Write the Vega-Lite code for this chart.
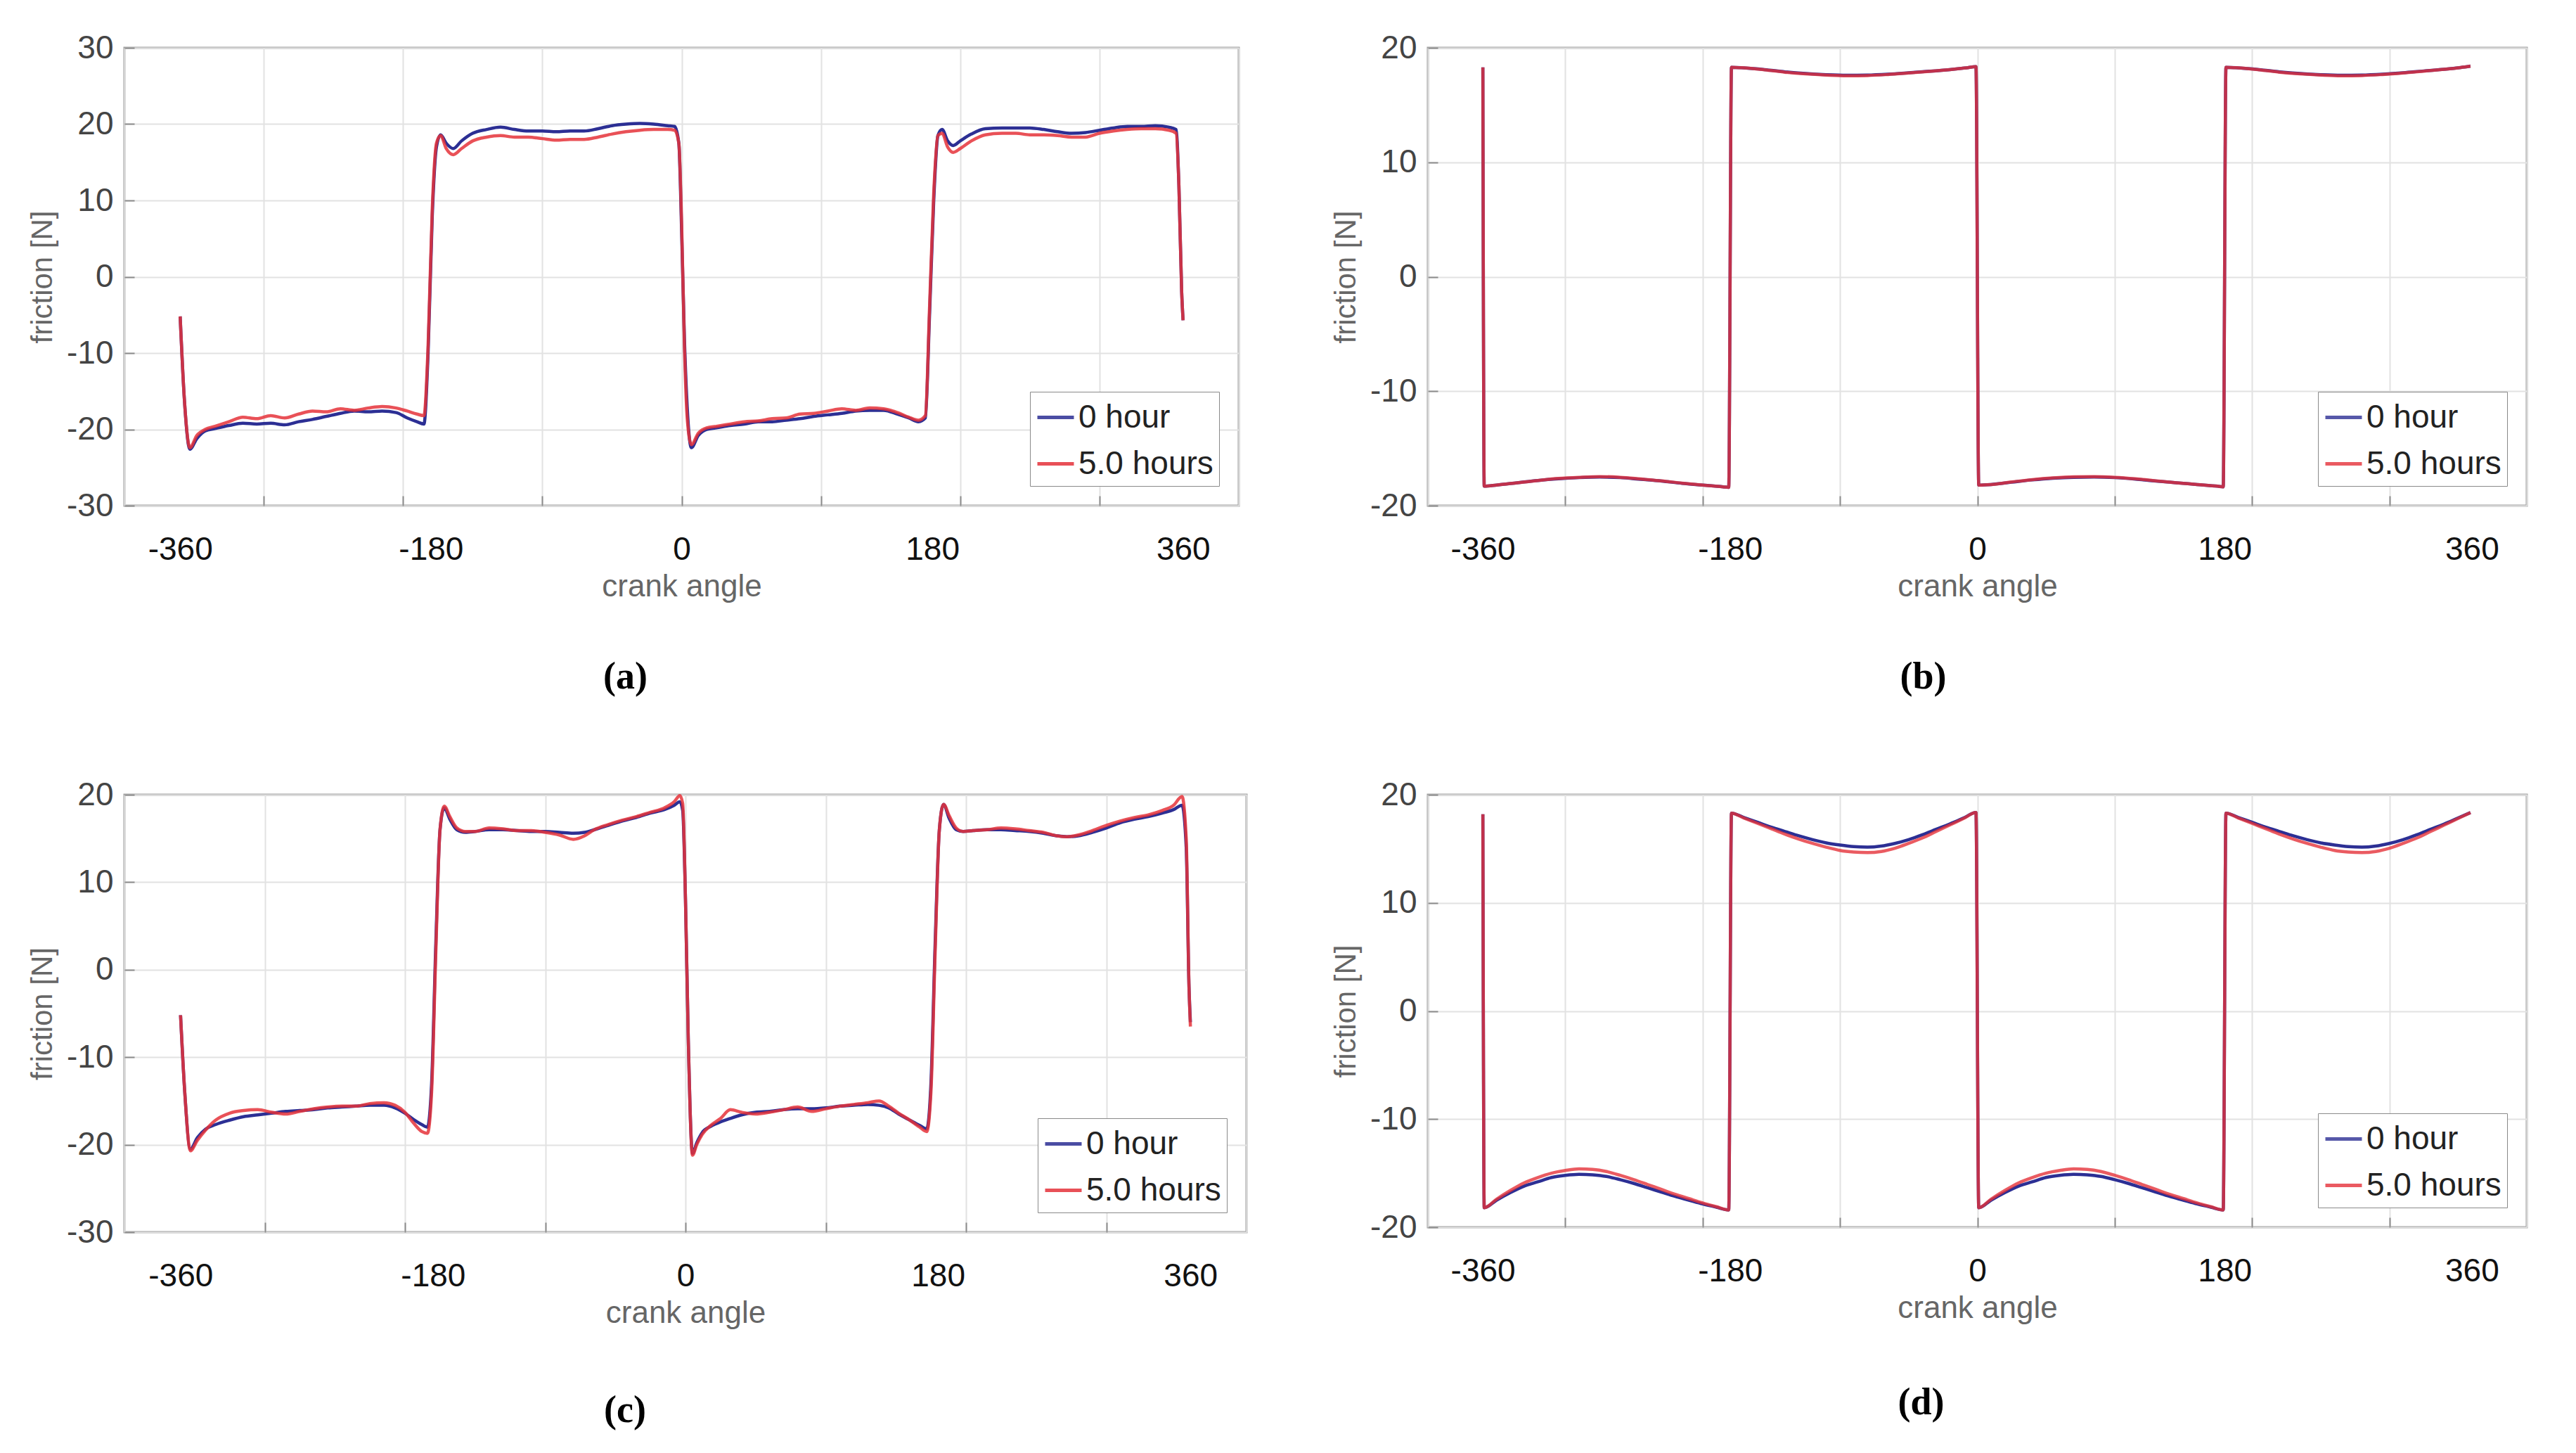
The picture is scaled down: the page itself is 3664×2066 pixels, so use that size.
{
"$schema":"https://vega.github.io/schema/vega-lite/v6.json",
"background":"white",
"padding":{"left":38,"top":43,"right":0,"bottom":0},
"data":{"values":[
{"p":"a","s":"0 hour","x":-360,"y":-5.2},{"p":"a","s":"0 hour","x":-357,"y":-16},{"p":"a","s":"0 hour","x":-353,"y":-22.6},{"p":"a","s":"0 hour","x":-348,"y":-21.2},{"p":"a","s":"0 hour","x":-342,"y":-20.2},{"p":"a","s":"0 hour","x":-335,"y":-19.9},{"p":"a","s":"0 hour","x":-325,"y":-19.5},{"p":"a","s":"0 hour","x":-315,"y":-19.2},{"p":"a","s":"0 hour","x":-305,"y":-19.3},{"p":"a","s":"0 hour","x":-295,"y":-19.2},{"p":"a","s":"0 hour","x":-285,"y":-19.4},{"p":"a","s":"0 hour","x":-275,"y":-19.0},{"p":"a","s":"0 hour","x":-265,"y":-18.7},{"p":"a","s":"0 hour","x":-255,"y":-18.3},{"p":"a","s":"0 hour","x":-245,"y":-17.9},{"p":"a","s":"0 hour","x":-235,"y":-17.6},{"p":"a","s":"0 hour","x":-225,"y":-17.7},{"p":"a","s":"0 hour","x":-215,"y":-17.6},{"p":"a","s":"0 hour","x":-205,"y":-17.8},{"p":"a","s":"0 hour","x":-197,"y":-18.5},{"p":"a","s":"0 hour","x":-190,"y":-19.0},{"p":"a","s":"0 hour","x":-185,"y":-19.3},{"p":"a","s":"0 hour","x":-182,"y":-10},{"p":"a","s":"0 hour","x":-179,"y":8},{"p":"a","s":"0 hour","x":-176,"y":17},{"p":"a","s":"0 hour","x":-173,"y":18.6},{"p":"a","s":"0 hour","x":-169,"y":17.5},{"p":"a","s":"0 hour","x":-164,"y":16.8},{"p":"a","s":"0 hour","x":-158,"y":17.8},{"p":"a","s":"0 hour","x":-150,"y":18.8},{"p":"a","s":"0 hour","x":-140,"y":19.3},{"p":"a","s":"0 hour","x":-130,"y":19.6},{"p":"a","s":"0 hour","x":-120,"y":19.3},{"p":"a","s":"0 hour","x":-110,"y":19.1},{"p":"a","s":"0 hour","x":-100,"y":19.1},{"p":"a","s":"0 hour","x":-90,"y":19.0},{"p":"a","s":"0 hour","x":-80,"y":19.1},{"p":"a","s":"0 hour","x":-70,"y":19.1},{"p":"a","s":"0 hour","x":-60,"y":19.4},{"p":"a","s":"0 hour","x":-50,"y":19.8},{"p":"a","s":"0 hour","x":-40,"y":20.0},{"p":"a","s":"0 hour","x":-30,"y":20.1},{"p":"a","s":"0 hour","x":-20,"y":20.0},{"p":"a","s":"0 hour","x":-10,"y":19.8},{"p":"a","s":"0 hour","x":-5,"y":19.7},{"p":"a","s":"0 hour","x":-2,"y":17.5},{"p":"a","s":"0 hour","x":0,"y":6},{"p":"a","s":"0 hour","x":2,"y":-8},{"p":"a","s":"0 hour","x":4,"y":-17},{"p":"a","s":"0 hour","x":7,"y":-22.4},{"p":"a","s":"0 hour","x":12,"y":-20.8},{"p":"a","s":"0 hour","x":18,"y":-20.0},{"p":"a","s":"0 hour","x":25,"y":-19.8},{"p":"a","s":"0 hour","x":35,"y":-19.5},{"p":"a","s":"0 hour","x":45,"y":-19.3},{"p":"a","s":"0 hour","x":55,"y":-19.0},{"p":"a","s":"0 hour","x":65,"y":-19.0},{"p":"a","s":"0 hour","x":75,"y":-18.8},{"p":"a","s":"0 hour","x":85,"y":-18.6},{"p":"a","s":"0 hour","x":95,"y":-18.3},{"p":"a","s":"0 hour","x":105,"y":-18.1},{"p":"a","s":"0 hour","x":115,"y":-17.9},{"p":"a","s":"0 hour","x":125,"y":-17.6},{"p":"a","s":"0 hour","x":135,"y":-17.5},{"p":"a","s":"0 hour","x":145,"y":-17.5},{"p":"a","s":"0 hour","x":155,"y":-18.0},{"p":"a","s":"0 hour","x":163,"y":-18.5},{"p":"a","s":"0 hour","x":170,"y":-19.0},{"p":"a","s":"0 hour","x":175,"y":-18.5},{"p":"a","s":"0 hour","x":178,"y":-5},{"p":"a","s":"0 hour","x":181,"y":10},{"p":"a","s":"0 hour","x":184,"y":18.5},{"p":"a","s":"0 hour","x":187,"y":19.3},{"p":"a","s":"0 hour","x":191,"y":17.8},{"p":"a","s":"0 hour","x":195,"y":17.2},{"p":"a","s":"0 hour","x":200,"y":17.8},{"p":"a","s":"0 hour","x":208,"y":18.7},{"p":"a","s":"0 hour","x":218,"y":19.4},{"p":"a","s":"0 hour","x":230,"y":19.5},{"p":"a","s":"0 hour","x":240,"y":19.5},{"p":"a","s":"0 hour","x":250,"y":19.5},{"p":"a","s":"0 hour","x":260,"y":19.3},{"p":"a","s":"0 hour","x":270,"y":19.0},{"p":"a","s":"0 hour","x":280,"y":18.8},{"p":"a","s":"0 hour","x":290,"y":18.9},{"p":"a","s":"0 hour","x":300,"y":19.2},{"p":"a","s":"0 hour","x":310,"y":19.5},{"p":"a","s":"0 hour","x":320,"y":19.7},{"p":"a","s":"0 hour","x":330,"y":19.7},{"p":"a","s":"0 hour","x":340,"y":19.8},{"p":"a","s":"0 hour","x":350,"y":19.6},{"p":"a","s":"0 hour","x":355,"y":19.3},{"p":"a","s":"0 hour","x":357,"y":12},{"p":"a","s":"0 hour","x":359,"y":-2},{"p":"a","s":"0 hour","x":360,"y":-5.7},
{"p":"a","s":"5.0 hours","x":-360,"y":-5.2},{"p":"a","s":"5.0 hours","x":-357,"y":-16},{"p":"a","s":"5.0 hours","x":-353,"y":-22.4},{"p":"a","s":"5.0 hours","x":-348,"y":-20.8},{"p":"a","s":"5.0 hours","x":-342,"y":-20.0},{"p":"a","s":"5.0 hours","x":-335,"y":-19.6},{"p":"a","s":"5.0 hours","x":-325,"y":-19.0},{"p":"a","s":"5.0 hours","x":-315,"y":-18.4},{"p":"a","s":"5.0 hours","x":-305,"y":-18.6},{"p":"a","s":"5.0 hours","x":-295,"y":-18.2},{"p":"a","s":"5.0 hours","x":-285,"y":-18.5},{"p":"a","s":"5.0 hours","x":-275,"y":-18.0},{"p":"a","s":"5.0 hours","x":-265,"y":-17.6},{"p":"a","s":"5.0 hours","x":-255,"y":-17.7},{"p":"a","s":"5.0 hours","x":-245,"y":-17.3},{"p":"a","s":"5.0 hours","x":-235,"y":-17.5},{"p":"a","s":"5.0 hours","x":-225,"y":-17.2},{"p":"a","s":"5.0 hours","x":-215,"y":-17.0},{"p":"a","s":"5.0 hours","x":-205,"y":-17.2},{"p":"a","s":"5.0 hours","x":-197,"y":-17.6},{"p":"a","s":"5.0 hours","x":-190,"y":-18.0},{"p":"a","s":"5.0 hours","x":-185,"y":-18.2},{"p":"a","s":"5.0 hours","x":-182,"y":-9},{"p":"a","s":"5.0 hours","x":-179,"y":9},{"p":"a","s":"5.0 hours","x":-176,"y":17.5},{"p":"a","s":"5.0 hours","x":-173,"y":18.5},{"p":"a","s":"5.0 hours","x":-169,"y":16.8},{"p":"a","s":"5.0 hours","x":-164,"y":16.0},{"p":"a","s":"5.0 hours","x":-158,"y":16.8},{"p":"a","s":"5.0 hours","x":-150,"y":17.8},{"p":"a","s":"5.0 hours","x":-140,"y":18.3},{"p":"a","s":"5.0 hours","x":-130,"y":18.5},{"p":"a","s":"5.0 hours","x":-120,"y":18.3},{"p":"a","s":"5.0 hours","x":-110,"y":18.3},{"p":"a","s":"5.0 hours","x":-100,"y":18.1},{"p":"a","s":"5.0 hours","x":-90,"y":17.9},{"p":"a","s":"5.0 hours","x":-80,"y":18.0},{"p":"a","s":"5.0 hours","x":-70,"y":18.0},{"p":"a","s":"5.0 hours","x":-60,"y":18.3},{"p":"a","s":"5.0 hours","x":-50,"y":18.7},{"p":"a","s":"5.0 hours","x":-40,"y":19.0},{"p":"a","s":"5.0 hours","x":-30,"y":19.2},{"p":"a","s":"5.0 hours","x":-20,"y":19.3},{"p":"a","s":"5.0 hours","x":-10,"y":19.3},{"p":"a","s":"5.0 hours","x":-5,"y":19.2},{"p":"a","s":"5.0 hours","x":-2,"y":17.5},{"p":"a","s":"5.0 hours","x":0,"y":7},{"p":"a","s":"5.0 hours","x":2,"y":-9},{"p":"a","s":"5.0 hours","x":4,"y":-18.5},{"p":"a","s":"5.0 hours","x":7,"y":-22.0},{"p":"a","s":"5.0 hours","x":12,"y":-20.5},{"p":"a","s":"5.0 hours","x":18,"y":-19.8},{"p":"a","s":"5.0 hours","x":25,"y":-19.6},{"p":"a","s":"5.0 hours","x":35,"y":-19.3},{"p":"a","s":"5.0 hours","x":45,"y":-19.0},{"p":"a","s":"5.0 hours","x":55,"y":-18.9},{"p":"a","s":"5.0 hours","x":65,"y":-18.6},{"p":"a","s":"5.0 hours","x":75,"y":-18.5},{"p":"a","s":"5.0 hours","x":85,"y":-18.0},{"p":"a","s":"5.0 hours","x":95,"y":-17.9},{"p":"a","s":"5.0 hours","x":105,"y":-17.6},{"p":"a","s":"5.0 hours","x":115,"y":-17.3},{"p":"a","s":"5.0 hours","x":125,"y":-17.5},{"p":"a","s":"5.0 hours","x":135,"y":-17.2},{"p":"a","s":"5.0 hours","x":145,"y":-17.3},{"p":"a","s":"5.0 hours","x":155,"y":-17.8},{"p":"a","s":"5.0 hours","x":163,"y":-18.4},{"p":"a","s":"5.0 hours","x":170,"y":-18.8},{"p":"a","s":"5.0 hours","x":175,"y":-18.2},{"p":"a","s":"5.0 hours","x":178,"y":-4},{"p":"a","s":"5.0 hours","x":181,"y":11},{"p":"a","s":"5.0 hours","x":184,"y":18.5},{"p":"a","s":"5.0 hours","x":187,"y":18.8},{"p":"a","s":"5.0 hours","x":191,"y":17.0},{"p":"a","s":"5.0 hours","x":195,"y":16.3},{"p":"a","s":"5.0 hours","x":200,"y":16.8},{"p":"a","s":"5.0 hours","x":208,"y":17.8},{"p":"a","s":"5.0 hours","x":218,"y":18.6},{"p":"a","s":"5.0 hours","x":230,"y":18.8},{"p":"a","s":"5.0 hours","x":240,"y":18.8},{"p":"a","s":"5.0 hours","x":250,"y":18.6},{"p":"a","s":"5.0 hours","x":260,"y":18.6},{"p":"a","s":"5.0 hours","x":270,"y":18.5},{"p":"a","s":"5.0 hours","x":280,"y":18.3},{"p":"a","s":"5.0 hours","x":290,"y":18.3},{"p":"a","s":"5.0 hours","x":300,"y":18.8},{"p":"a","s":"5.0 hours","x":310,"y":19.1},{"p":"a","s":"5.0 hours","x":320,"y":19.3},{"p":"a","s":"5.0 hours","x":330,"y":19.4},{"p":"a","s":"5.0 hours","x":340,"y":19.4},{"p":"a","s":"5.0 hours","x":350,"y":19.2},{"p":"a","s":"5.0 hours","x":355,"y":18.8},{"p":"a","s":"5.0 hours","x":357,"y":12},{"p":"a","s":"5.0 hours","x":359,"y":-2},{"p":"a","s":"5.0 hours","x":360,"y":-5.7},
{"p":"b","s":"0 hour","x":-360,"y":18.3},{"p":"b","s":"0 hour","x":-359,"y":-18.3},{"p":"b","s":"0 hour","x":-350,"y":-18.2},{"p":"b","s":"0 hour","x":-335,"y":-18.0},{"p":"b","s":"0 hour","x":-320,"y":-17.8},{"p":"b","s":"0 hour","x":-305,"y":-17.65},{"p":"b","s":"0 hour","x":-290,"y":-17.55},{"p":"b","s":"0 hour","x":-275,"y":-17.5},{"p":"b","s":"0 hour","x":-260,"y":-17.55},{"p":"b","s":"0 hour","x":-245,"y":-17.7},{"p":"b","s":"0 hour","x":-230,"y":-17.85},{"p":"b","s":"0 hour","x":-215,"y":-18.05},{"p":"b","s":"0 hour","x":-200,"y":-18.2},{"p":"b","s":"0 hour","x":-185,"y":-18.35},{"p":"b","s":"0 hour","x":-181,"y":-18.4},{"p":"b","s":"0 hour","x":-179,"y":18.3},{"p":"b","s":"0 hour","x":-170,"y":18.25},{"p":"b","s":"0 hour","x":-155,"y":18.1},{"p":"b","s":"0 hour","x":-140,"y":17.9},{"p":"b","s":"0 hour","x":-125,"y":17.75},{"p":"b","s":"0 hour","x":-110,"y":17.65},{"p":"b","s":"0 hour","x":-95,"y":17.6},{"p":"b","s":"0 hour","x":-80,"y":17.62},{"p":"b","s":"0 hour","x":-65,"y":17.7},{"p":"b","s":"0 hour","x":-50,"y":17.82},{"p":"b","s":"0 hour","x":-35,"y":17.95},{"p":"b","s":"0 hour","x":-20,"y":18.1},{"p":"b","s":"0 hour","x":-8,"y":18.25},{"p":"b","s":"0 hour","x":-1,"y":18.35},{"p":"b","s":"0 hour","x":1,"y":-18.2},{"p":"b","s":"0 hour","x":10,"y":-18.15},{"p":"b","s":"0 hour","x":25,"y":-17.95},{"p":"b","s":"0 hour","x":40,"y":-17.75},{"p":"b","s":"0 hour","x":55,"y":-17.6},{"p":"b","s":"0 hour","x":70,"y":-17.52},{"p":"b","s":"0 hour","x":85,"y":-17.5},{"p":"b","s":"0 hour","x":100,"y":-17.55},{"p":"b","s":"0 hour","x":115,"y":-17.68},{"p":"b","s":"0 hour","x":130,"y":-17.85},{"p":"b","s":"0 hour","x":145,"y":-18.0},{"p":"b","s":"0 hour","x":160,"y":-18.15},{"p":"b","s":"0 hour","x":175,"y":-18.3},{"p":"b","s":"0 hour","x":179,"y":-18.35},{"p":"b","s":"0 hour","x":181,"y":18.3},{"p":"b","s":"0 hour","x":190,"y":18.25},{"p":"b","s":"0 hour","x":205,"y":18.1},{"p":"b","s":"0 hour","x":220,"y":17.9},{"p":"b","s":"0 hour","x":235,"y":17.75},{"p":"b","s":"0 hour","x":250,"y":17.65},{"p":"b","s":"0 hour","x":265,"y":17.6},{"p":"b","s":"0 hour","x":280,"y":17.62},{"p":"b","s":"0 hour","x":295,"y":17.7},{"p":"b","s":"0 hour","x":310,"y":17.82},{"p":"b","s":"0 hour","x":325,"y":17.98},{"p":"b","s":"0 hour","x":340,"y":18.12},{"p":"b","s":"0 hour","x":352,"y":18.28},{"p":"b","s":"0 hour","x":359,"y":18.4},
{"p":"b","s":"5.0 hours","x":-360,"y":18.3},{"p":"b","s":"5.0 hours","x":-359,"y":-18.3},{"p":"b","s":"5.0 hours","x":-350,"y":-18.2},{"p":"b","s":"5.0 hours","x":-335,"y":-18.0},{"p":"b","s":"5.0 hours","x":-320,"y":-17.8},{"p":"b","s":"5.0 hours","x":-305,"y":-17.62},{"p":"b","s":"5.0 hours","x":-290,"y":-17.52},{"p":"b","s":"5.0 hours","x":-275,"y":-17.46},{"p":"b","s":"5.0 hours","x":-260,"y":-17.52},{"p":"b","s":"5.0 hours","x":-245,"y":-17.67},{"p":"b","s":"5.0 hours","x":-230,"y":-17.83},{"p":"b","s":"5.0 hours","x":-215,"y":-18.03},{"p":"b","s":"5.0 hours","x":-200,"y":-18.2},{"p":"b","s":"5.0 hours","x":-185,"y":-18.35},{"p":"b","s":"5.0 hours","x":-181,"y":-18.4},{"p":"b","s":"5.0 hours","x":-179,"y":18.3},{"p":"b","s":"5.0 hours","x":-170,"y":18.25},{"p":"b","s":"5.0 hours","x":-155,"y":18.08},{"p":"b","s":"5.0 hours","x":-140,"y":17.87},{"p":"b","s":"5.0 hours","x":-125,"y":17.72},{"p":"b","s":"5.0 hours","x":-110,"y":17.62},{"p":"b","s":"5.0 hours","x":-95,"y":17.56},{"p":"b","s":"5.0 hours","x":-80,"y":17.58},{"p":"b","s":"5.0 hours","x":-65,"y":17.67},{"p":"b","s":"5.0 hours","x":-50,"y":17.8},{"p":"b","s":"5.0 hours","x":-35,"y":17.94},{"p":"b","s":"5.0 hours","x":-20,"y":18.1},{"p":"b","s":"5.0 hours","x":-8,"y":18.25},{"p":"b","s":"5.0 hours","x":-1,"y":18.35},{"p":"b","s":"5.0 hours","x":1,"y":-18.2},{"p":"b","s":"5.0 hours","x":10,"y":-18.15},{"p":"b","s":"5.0 hours","x":25,"y":-17.93},{"p":"b","s":"5.0 hours","x":40,"y":-17.72},{"p":"b","s":"5.0 hours","x":55,"y":-17.57},{"p":"b","s":"5.0 hours","x":70,"y":-17.48},{"p":"b","s":"5.0 hours","x":85,"y":-17.46},{"p":"b","s":"5.0 hours","x":100,"y":-17.52},{"p":"b","s":"5.0 hours","x":115,"y":-17.65},{"p":"b","s":"5.0 hours","x":130,"y":-17.83},{"p":"b","s":"5.0 hours","x":145,"y":-18.0},{"p":"b","s":"5.0 hours","x":160,"y":-18.15},{"p":"b","s":"5.0 hours","x":175,"y":-18.3},{"p":"b","s":"5.0 hours","x":179,"y":-18.35},{"p":"b","s":"5.0 hours","x":181,"y":18.3},{"p":"b","s":"5.0 hours","x":190,"y":18.25},{"p":"b","s":"5.0 hours","x":205,"y":18.08},{"p":"b","s":"5.0 hours","x":220,"y":17.87},{"p":"b","s":"5.0 hours","x":235,"y":17.72},{"p":"b","s":"5.0 hours","x":250,"y":17.62},{"p":"b","s":"5.0 hours","x":265,"y":17.56},{"p":"b","s":"5.0 hours","x":280,"y":17.58},{"p":"b","s":"5.0 hours","x":295,"y":17.67},{"p":"b","s":"5.0 hours","x":310,"y":17.8},{"p":"b","s":"5.0 hours","x":325,"y":17.96},{"p":"b","s":"5.0 hours","x":340,"y":18.12},{"p":"b","s":"5.0 hours","x":352,"y":18.28},{"p":"b","s":"5.0 hours","x":359,"y":18.4},
{"p":"c","s":"0 hour","x":-360,"y":-5.2},{"p":"c","s":"0 hour","x":-357,"y":-14},{"p":"c","s":"0 hour","x":-353,"y":-20.5},{"p":"c","s":"0 hour","x":-348,"y":-19.2},{"p":"c","s":"0 hour","x":-342,"y":-18.2},{"p":"c","s":"0 hour","x":-335,"y":-17.7},{"p":"c","s":"0 hour","x":-325,"y":-17.2},{"p":"c","s":"0 hour","x":-315,"y":-16.8},{"p":"c","s":"0 hour","x":-305,"y":-16.6},{"p":"c","s":"0 hour","x":-295,"y":-16.4},{"p":"c","s":"0 hour","x":-285,"y":-16.2},{"p":"c","s":"0 hour","x":-275,"y":-16.1},{"p":"c","s":"0 hour","x":-265,"y":-16.0},{"p":"c","s":"0 hour","x":-255,"y":-15.8},{"p":"c","s":"0 hour","x":-245,"y":-15.7},{"p":"c","s":"0 hour","x":-235,"y":-15.6},{"p":"c","s":"0 hour","x":-225,"y":-15.5},{"p":"c","s":"0 hour","x":-215,"y":-15.5},{"p":"c","s":"0 hour","x":-207,"y":-15.8},{"p":"c","s":"0 hour","x":-200,"y":-16.4},{"p":"c","s":"0 hour","x":-194,"y":-17.1},{"p":"c","s":"0 hour","x":-188,"y":-17.7},{"p":"c","s":"0 hour","x":-184,"y":-18.0},{"p":"c","s":"0 hour","x":-181,"y":-13},{"p":"c","s":"0 hour","x":-178,"y":3},{"p":"c","s":"0 hour","x":-175,"y":16},{"p":"c","s":"0 hour","x":-172,"y":18.5},{"p":"c","s":"0 hour","x":-168,"y":17.2},{"p":"c","s":"0 hour","x":-163,"y":16.0},{"p":"c","s":"0 hour","x":-157,"y":15.7},{"p":"c","s":"0 hour","x":-150,"y":15.8},{"p":"c","s":"0 hour","x":-140,"y":16.0},{"p":"c","s":"0 hour","x":-130,"y":16.0},{"p":"c","s":"0 hour","x":-120,"y":15.9},{"p":"c","s":"0 hour","x":-110,"y":15.8},{"p":"c","s":"0 hour","x":-100,"y":15.8},{"p":"c","s":"0 hour","x":-90,"y":15.7},{"p":"c","s":"0 hour","x":-80,"y":15.6},{"p":"c","s":"0 hour","x":-72,"y":15.7},{"p":"c","s":"0 hour","x":-65,"y":16.0},{"p":"c","s":"0 hour","x":-55,"y":16.5},{"p":"c","s":"0 hour","x":-45,"y":17.0},{"p":"c","s":"0 hour","x":-35,"y":17.4},{"p":"c","s":"0 hour","x":-25,"y":17.9},{"p":"c","s":"0 hour","x":-15,"y":18.3},{"p":"c","s":"0 hour","x":-8,"y":18.8},{"p":"c","s":"0 hour","x":-4,"y":19.2},{"p":"c","s":"0 hour","x":-2,"y":18.2},{"p":"c","s":"0 hour","x":0,"y":8},{"p":"c","s":"0 hour","x":2,"y":-8},{"p":"c","s":"0 hour","x":5,"y":-21.0},{"p":"c","s":"0 hour","x":8,"y":-19.8},{"p":"c","s":"0 hour","x":12,"y":-18.6},{"p":"c","s":"0 hour","x":18,"y":-17.9},{"p":"c","s":"0 hour","x":25,"y":-17.4},{"p":"c","s":"0 hour","x":32,"y":-17.0},{"p":"c","s":"0 hour","x":40,"y":-16.6},{"p":"c","s":"0 hour","x":50,"y":-16.3},{"p":"c","s":"0 hour","x":60,"y":-16.2},{"p":"c","s":"0 hour","x":70,"y":-16.0},{"p":"c","s":"0 hour","x":80,"y":-15.9},{"p":"c","s":"0 hour","x":90,"y":-15.9},{"p":"c","s":"0 hour","x":100,"y":-15.8},{"p":"c","s":"0 hour","x":110,"y":-15.6},{"p":"c","s":"0 hour","x":120,"y":-15.5},{"p":"c","s":"0 hour","x":130,"y":-15.4},{"p":"c","s":"0 hour","x":138,"y":-15.5},{"p":"c","s":"0 hour","x":145,"y":-15.8},{"p":"c","s":"0 hour","x":152,"y":-16.5},{"p":"c","s":"0 hour","x":160,"y":-17.2},{"p":"c","s":"0 hour","x":167,"y":-17.8},{"p":"c","s":"0 hour","x":172,"y":-18.2},{"p":"c","s":"0 hour","x":175,"y":-13},{"p":"c","s":"0 hour","x":178,"y":3},{"p":"c","s":"0 hour","x":181,"y":16},{"p":"c","s":"0 hour","x":184,"y":18.9},{"p":"c","s":"0 hour","x":188,"y":17.3},{"p":"c","s":"0 hour","x":193,"y":16.0},{"p":"c","s":"0 hour","x":198,"y":15.8},{"p":"c","s":"0 hour","x":205,"y":15.9},{"p":"c","s":"0 hour","x":215,"y":16.0},{"p":"c","s":"0 hour","x":225,"y":16.0},{"p":"c","s":"0 hour","x":235,"y":15.9},{"p":"c","s":"0 hour","x":245,"y":15.8},{"p":"c","s":"0 hour","x":255,"y":15.6},{"p":"c","s":"0 hour","x":265,"y":15.3},{"p":"c","s":"0 hour","x":272,"y":15.2},{"p":"c","s":"0 hour","x":280,"y":15.3},{"p":"c","s":"0 hour","x":290,"y":15.7},{"p":"c","s":"0 hour","x":300,"y":16.2},{"p":"c","s":"0 hour","x":310,"y":16.8},{"p":"c","s":"0 hour","x":320,"y":17.2},{"p":"c","s":"0 hour","x":330,"y":17.5},{"p":"c","s":"0 hour","x":340,"y":17.9},{"p":"c","s":"0 hour","x":348,"y":18.3},{"p":"c","s":"0 hour","x":354,"y":18.8},{"p":"c","s":"0 hour","x":357,"y":14},{"p":"c","s":"0 hour","x":359,"y":-2},{"p":"c","s":"0 hour","x":360,"y":-6},
{"p":"c","s":"5.0 hours","x":-360,"y":-5.2},{"p":"c","s":"5.0 hours","x":-357,"y":-14},{"p":"c","s":"5.0 hours","x":-353,"y":-20.7},{"p":"c","s":"5.0 hours","x":-348,"y":-19.5},{"p":"c","s":"5.0 hours","x":-342,"y":-18.3},{"p":"c","s":"5.0 hours","x":-335,"y":-17.2},{"p":"c","s":"5.0 hours","x":-325,"y":-16.4},{"p":"c","s":"5.0 hours","x":-315,"y":-16.1},{"p":"c","s":"5.0 hours","x":-305,"y":-16.0},{"p":"c","s":"5.0 hours","x":-295,"y":-16.3},{"p":"c","s":"5.0 hours","x":-285,"y":-16.5},{"p":"c","s":"5.0 hours","x":-275,"y":-16.2},{"p":"c","s":"5.0 hours","x":-265,"y":-15.9},{"p":"c","s":"5.0 hours","x":-255,"y":-15.7},{"p":"c","s":"5.0 hours","x":-245,"y":-15.6},{"p":"c","s":"5.0 hours","x":-235,"y":-15.6},{"p":"c","s":"5.0 hours","x":-225,"y":-15.3},{"p":"c","s":"5.0 hours","x":-215,"y":-15.2},{"p":"c","s":"5.0 hours","x":-207,"y":-15.5},{"p":"c","s":"5.0 hours","x":-200,"y":-16.3},{"p":"c","s":"5.0 hours","x":-194,"y":-17.5},{"p":"c","s":"5.0 hours","x":-188,"y":-18.5},{"p":"c","s":"5.0 hours","x":-184,"y":-18.7},{"p":"c","s":"5.0 hours","x":-181,"y":-14},{"p":"c","s":"5.0 hours","x":-178,"y":2},{"p":"c","s":"5.0 hours","x":-175,"y":16},{"p":"c","s":"5.0 hours","x":-172,"y":18.7},{"p":"c","s":"5.0 hours","x":-168,"y":17.5},{"p":"c","s":"5.0 hours","x":-163,"y":16.2},{"p":"c","s":"5.0 hours","x":-157,"y":15.8},{"p":"c","s":"5.0 hours","x":-150,"y":15.8},{"p":"c","s":"5.0 hours","x":-140,"y":16.2},{"p":"c","s":"5.0 hours","x":-130,"y":16.1},{"p":"c","s":"5.0 hours","x":-120,"y":15.9},{"p":"c","s":"5.0 hours","x":-110,"y":15.9},{"p":"c","s":"5.0 hours","x":-100,"y":15.7},{"p":"c","s":"5.0 hours","x":-90,"y":15.4},{"p":"c","s":"5.0 hours","x":-80,"y":14.9},{"p":"c","s":"5.0 hours","x":-72,"y":15.3},{"p":"c","s":"5.0 hours","x":-65,"y":16.0},{"p":"c","s":"5.0 hours","x":-55,"y":16.6},{"p":"c","s":"5.0 hours","x":-45,"y":17.1},{"p":"c","s":"5.0 hours","x":-35,"y":17.5},{"p":"c","s":"5.0 hours","x":-25,"y":18.0},{"p":"c","s":"5.0 hours","x":-15,"y":18.5},{"p":"c","s":"5.0 hours","x":-8,"y":19.2},{"p":"c","s":"5.0 hours","x":-4,"y":19.9},{"p":"c","s":"5.0 hours","x":-2,"y":19.0},{"p":"c","s":"5.0 hours","x":0,"y":8},{"p":"c","s":"5.0 hours","x":2,"y":-8},{"p":"c","s":"5.0 hours","x":5,"y":-21.2},{"p":"c","s":"5.0 hours","x":8,"y":-20.0},{"p":"c","s":"5.0 hours","x":12,"y":-18.8},{"p":"c","s":"5.0 hours","x":18,"y":-17.8},{"p":"c","s":"5.0 hours","x":25,"y":-17.0},{"p":"c","s":"5.0 hours","x":32,"y":-16.0},{"p":"c","s":"5.0 hours","x":40,"y":-16.3},{"p":"c","s":"5.0 hours","x":50,"y":-16.5},{"p":"c","s":"5.0 hours","x":60,"y":-16.3},{"p":"c","s":"5.0 hours","x":70,"y":-16.0},{"p":"c","s":"5.0 hours","x":80,"y":-15.7},{"p":"c","s":"5.0 hours","x":90,"y":-16.2},{"p":"c","s":"5.0 hours","x":100,"y":-15.9},{"p":"c","s":"5.0 hours","x":110,"y":-15.6},{"p":"c","s":"5.0 hours","x":120,"y":-15.4},{"p":"c","s":"5.0 hours","x":130,"y":-15.2},{"p":"c","s":"5.0 hours","x":138,"y":-15.0},{"p":"c","s":"5.0 hours","x":145,"y":-15.6},{"p":"c","s":"5.0 hours","x":152,"y":-16.4},{"p":"c","s":"5.0 hours","x":160,"y":-17.2},{"p":"c","s":"5.0 hours","x":167,"y":-18.0},{"p":"c","s":"5.0 hours","x":172,"y":-18.5},{"p":"c","s":"5.0 hours","x":175,"y":-14},{"p":"c","s":"5.0 hours","x":178,"y":2},{"p":"c","s":"5.0 hours","x":181,"y":16},{"p":"c","s":"5.0 hours","x":184,"y":18.9},{"p":"c","s":"5.0 hours","x":188,"y":17.6},{"p":"c","s":"5.0 hours","x":193,"y":16.2},{"p":"c","s":"5.0 hours","x":198,"y":15.8},{"p":"c","s":"5.0 hours","x":205,"y":15.9},{"p":"c","s":"5.0 hours","x":215,"y":16.0},{"p":"c","s":"5.0 hours","x":225,"y":16.2},{"p":"c","s":"5.0 hours","x":235,"y":16.1},{"p":"c","s":"5.0 hours","x":245,"y":15.9},{"p":"c","s":"5.0 hours","x":255,"y":15.7},{"p":"c","s":"5.0 hours","x":265,"y":15.3},{"p":"c","s":"5.0 hours","x":272,"y":15.2},{"p":"c","s":"5.0 hours","x":280,"y":15.4},{"p":"c","s":"5.0 hours","x":290,"y":15.9},{"p":"c","s":"5.0 hours","x":300,"y":16.5},{"p":"c","s":"5.0 hours","x":310,"y":17.0},{"p":"c","s":"5.0 hours","x":320,"y":17.4},{"p":"c","s":"5.0 hours","x":330,"y":17.7},{"p":"c","s":"5.0 hours","x":340,"y":18.2},{"p":"c","s":"5.0 hours","x":348,"y":18.8},{"p":"c","s":"5.0 hours","x":354,"y":19.8},{"p":"c","s":"5.0 hours","x":357,"y":15},{"p":"c","s":"5.0 hours","x":359,"y":-2},{"p":"c","s":"5.0 hours","x":360,"y":-6.5},
{"p":"d","s":"0 hour","x":-360,"y":18.2},{"p":"d","s":"0 hour","x":-359,"y":-18.2},{"p":"d","s":"0 hour","x":-350,"y":-17.5},{"p":"d","s":"0 hour","x":-340,"y":-16.8},{"p":"d","s":"0 hour","x":-330,"y":-16.2},{"p":"d","s":"0 hour","x":-320,"y":-15.8},{"p":"d","s":"0 hour","x":-310,"y":-15.4},{"p":"d","s":"0 hour","x":-300,"y":-15.2},{"p":"d","s":"0 hour","x":-290,"y":-15.1},{"p":"d","s":"0 hour","x":-280,"y":-15.15},{"p":"d","s":"0 hour","x":-270,"y":-15.3},{"p":"d","s":"0 hour","x":-260,"y":-15.6},{"p":"d","s":"0 hour","x":-250,"y":-15.95},{"p":"d","s":"0 hour","x":-240,"y":-16.35},{"p":"d","s":"0 hour","x":-230,"y":-16.75},{"p":"d","s":"0 hour","x":-220,"y":-17.15},{"p":"d","s":"0 hour","x":-210,"y":-17.5},{"p":"d","s":"0 hour","x":-200,"y":-17.85},{"p":"d","s":"0 hour","x":-190,"y":-18.15},{"p":"d","s":"0 hour","x":-181,"y":-18.4},{"p":"d","s":"0 hour","x":-179,"y":18.3},{"p":"d","s":"0 hour","x":-170,"y":17.9},{"p":"d","s":"0 hour","x":-160,"y":17.45},{"p":"d","s":"0 hour","x":-150,"y":17.0},{"p":"d","s":"0 hour","x":-140,"y":16.6},{"p":"d","s":"0 hour","x":-130,"y":16.2},{"p":"d","s":"0 hour","x":-120,"y":15.85},{"p":"d","s":"0 hour","x":-110,"y":15.55},{"p":"d","s":"0 hour","x":-100,"y":15.35},{"p":"d","s":"0 hour","x":-90,"y":15.2},{"p":"d","s":"0 hour","x":-80,"y":15.15},{"p":"d","s":"0 hour","x":-70,"y":15.25},{"p":"d","s":"0 hour","x":-60,"y":15.5},{"p":"d","s":"0 hour","x":-50,"y":15.85},{"p":"d","s":"0 hour","x":-40,"y":16.3},{"p":"d","s":"0 hour","x":-30,"y":16.8},{"p":"d","s":"0 hour","x":-20,"y":17.3},{"p":"d","s":"0 hour","x":-10,"y":17.85},{"p":"d","s":"0 hour","x":-1,"y":18.35},{"p":"d","s":"0 hour","x":1,"y":-18.2},{"p":"d","s":"0 hour","x":10,"y":-17.5},{"p":"d","s":"0 hour","x":20,"y":-16.8},{"p":"d","s":"0 hour","x":30,"y":-16.2},{"p":"d","s":"0 hour","x":40,"y":-15.8},{"p":"d","s":"0 hour","x":50,"y":-15.4},{"p":"d","s":"0 hour","x":60,"y":-15.2},{"p":"d","s":"0 hour","x":70,"y":-15.1},{"p":"d","s":"0 hour","x":80,"y":-15.15},{"p":"d","s":"0 hour","x":90,"y":-15.3},{"p":"d","s":"0 hour","x":100,"y":-15.6},{"p":"d","s":"0 hour","x":110,"y":-15.95},{"p":"d","s":"0 hour","x":120,"y":-16.35},{"p":"d","s":"0 hour","x":130,"y":-16.75},{"p":"d","s":"0 hour","x":140,"y":-17.15},{"p":"d","s":"0 hour","x":150,"y":-17.5},{"p":"d","s":"0 hour","x":160,"y":-17.85},{"p":"d","s":"0 hour","x":170,"y":-18.15},{"p":"d","s":"0 hour","x":179,"y":-18.4},{"p":"d","s":"0 hour","x":181,"y":18.3},{"p":"d","s":"0 hour","x":190,"y":17.9},{"p":"d","s":"0 hour","x":200,"y":17.45},{"p":"d","s":"0 hour","x":210,"y":17.0},{"p":"d","s":"0 hour","x":220,"y":16.6},{"p":"d","s":"0 hour","x":230,"y":16.2},{"p":"d","s":"0 hour","x":240,"y":15.85},{"p":"d","s":"0 hour","x":250,"y":15.55},{"p":"d","s":"0 hour","x":260,"y":15.35},{"p":"d","s":"0 hour","x":270,"y":15.2},{"p":"d","s":"0 hour","x":280,"y":15.15},{"p":"d","s":"0 hour","x":290,"y":15.25},{"p":"d","s":"0 hour","x":300,"y":15.5},{"p":"d","s":"0 hour","x":310,"y":15.85},{"p":"d","s":"0 hour","x":320,"y":16.3},{"p":"d","s":"0 hour","x":330,"y":16.8},{"p":"d","s":"0 hour","x":340,"y":17.3},{"p":"d","s":"0 hour","x":350,"y":17.85},{"p":"d","s":"0 hour","x":359,"y":18.35},
{"p":"d","s":"5.0 hours","x":-360,"y":18.2},{"p":"d","s":"5.0 hours","x":-359,"y":-18.2},{"p":"d","s":"5.0 hours","x":-350,"y":-17.4},{"p":"d","s":"5.0 hours","x":-340,"y":-16.6},{"p":"d","s":"5.0 hours","x":-330,"y":-15.9},{"p":"d","s":"5.0 hours","x":-320,"y":-15.4},{"p":"d","s":"5.0 hours","x":-310,"y":-15.0},{"p":"d","s":"5.0 hours","x":-300,"y":-14.75},{"p":"d","s":"5.0 hours","x":-290,"y":-14.6},{"p":"d","s":"5.0 hours","x":-280,"y":-14.65},{"p":"d","s":"5.0 hours","x":-270,"y":-14.85},{"p":"d","s":"5.0 hours","x":-260,"y":-15.2},{"p":"d","s":"5.0 hours","x":-250,"y":-15.6},{"p":"d","s":"5.0 hours","x":-240,"y":-16.05},{"p":"d","s":"5.0 hours","x":-230,"y":-16.5},{"p":"d","s":"5.0 hours","x":-220,"y":-16.95},{"p":"d","s":"5.0 hours","x":-210,"y":-17.35},{"p":"d","s":"5.0 hours","x":-200,"y":-17.75},{"p":"d","s":"5.0 hours","x":-190,"y":-18.1},{"p":"d","s":"5.0 hours","x":-181,"y":-18.4},{"p":"d","s":"5.0 hours","x":-179,"y":18.3},{"p":"d","s":"5.0 hours","x":-170,"y":17.85},{"p":"d","s":"5.0 hours","x":-160,"y":17.35},{"p":"d","s":"5.0 hours","x":-150,"y":16.85},{"p":"d","s":"5.0 hours","x":-140,"y":16.35},{"p":"d","s":"5.0 hours","x":-130,"y":15.9},{"p":"d","s":"5.0 hours","x":-120,"y":15.5},{"p":"d","s":"5.0 hours","x":-110,"y":15.15},{"p":"d","s":"5.0 hours","x":-100,"y":14.85},{"p":"d","s":"5.0 hours","x":-90,"y":14.7},{"p":"d","s":"5.0 hours","x":-80,"y":14.65},{"p":"d","s":"5.0 hours","x":-70,"y":14.75},{"p":"d","s":"5.0 hours","x":-60,"y":15.05},{"p":"d","s":"5.0 hours","x":-50,"y":15.5},{"p":"d","s":"5.0 hours","x":-40,"y":16.0},{"p":"d","s":"5.0 hours","x":-30,"y":16.6},{"p":"d","s":"5.0 hours","x":-20,"y":17.2},{"p":"d","s":"5.0 hours","x":-10,"y":17.8},{"p":"d","s":"5.0 hours","x":-1,"y":18.35},{"p":"d","s":"5.0 hours","x":1,"y":-18.2},{"p":"d","s":"5.0 hours","x":10,"y":-17.4},{"p":"d","s":"5.0 hours","x":20,"y":-16.6},{"p":"d","s":"5.0 hours","x":30,"y":-15.9},{"p":"d","s":"5.0 hours","x":40,"y":-15.4},{"p":"d","s":"5.0 hours","x":50,"y":-15.0},{"p":"d","s":"5.0 hours","x":60,"y":-14.75},{"p":"d","s":"5.0 hours","x":70,"y":-14.6},{"p":"d","s":"5.0 hours","x":80,"y":-14.65},{"p":"d","s":"5.0 hours","x":90,"y":-14.85},{"p":"d","s":"5.0 hours","x":100,"y":-15.2},{"p":"d","s":"5.0 hours","x":110,"y":-15.6},{"p":"d","s":"5.0 hours","x":120,"y":-16.05},{"p":"d","s":"5.0 hours","x":130,"y":-16.5},{"p":"d","s":"5.0 hours","x":140,"y":-16.95},{"p":"d","s":"5.0 hours","x":150,"y":-17.35},{"p":"d","s":"5.0 hours","x":160,"y":-17.75},{"p":"d","s":"5.0 hours","x":170,"y":-18.1},{"p":"d","s":"5.0 hours","x":179,"y":-18.4},{"p":"d","s":"5.0 hours","x":181,"y":18.3},{"p":"d","s":"5.0 hours","x":190,"y":17.85},{"p":"d","s":"5.0 hours","x":200,"y":17.35},{"p":"d","s":"5.0 hours","x":210,"y":16.85},{"p":"d","s":"5.0 hours","x":220,"y":16.35},{"p":"d","s":"5.0 hours","x":230,"y":15.9},{"p":"d","s":"5.0 hours","x":240,"y":15.5},{"p":"d","s":"5.0 hours","x":250,"y":15.15},{"p":"d","s":"5.0 hours","x":260,"y":14.85},{"p":"d","s":"5.0 hours","x":270,"y":14.7},{"p":"d","s":"5.0 hours","x":280,"y":14.65},{"p":"d","s":"5.0 hours","x":290,"y":14.75},{"p":"d","s":"5.0 hours","x":300,"y":15.05},{"p":"d","s":"5.0 hours","x":310,"y":15.5},{"p":"d","s":"5.0 hours","x":320,"y":16.0},{"p":"d","s":"5.0 hours","x":330,"y":16.6},{"p":"d","s":"5.0 hours","x":340,"y":17.2},{"p":"d","s":"5.0 hours","x":350,"y":17.8},{"p":"d","s":"5.0 hours","x":359,"y":18.35}
]},
"columns":2,
"spacing":{"row":411,"column":258},
"bounds":"flush",
"resolve":{"legend":{"color":"independent"}},
"concat":[
{"width":1585,"height":651,
"title":{"text":"(a)","orient":"bottom","dx":-80,"offset":80},
"transform":[{"filter":"datum.p == 'a'"}],
"encoding":{
"x":{"field":"x","type":"quantitative","scale":{"domain":[-400,400],"nice":false},"axis":{"title":"crank angle","values":[-400,-360,-300,-200,-180,-100,0,100,180,200,300,360,400],"labelExpr":"abs(datum.value) % 180 == 0 ? toString(datum.value) : ''","gridOpacity":{"condition":{"test":"abs(datum.value) % 100 != 0","value":0},"value":1},"tickOpacity":{"condition":{"test":"abs(datum.value) % 100 != 0 || abs(datum.value) == 400","value":0},"value":1},"labelOverlap":false,"labelFlush":false}},
"y":{"field":"y","type":"quantitative","scale":{"domain":[-30,30],"nice":false,"zero":false},"axis":{"title":"friction [N]","values":[-30,-20,-10,0,10,20,30],"labelExpr":"toString(datum.value)"}},
"color":{"field":"s","type":"nominal","scale":{"domain":["0 hour","5.0 hours"],"range":["#2c2f94","#e5323a"]}}
},
"layer":[
{"transform":[{"filter":"datum.s == '0 hour'"}],"mark":{"type":"line","interpolate":"monotone","strokeWidth":4.5}},
{"transform":[{"filter":"datum.s == '5.0 hours'"}],"mark":{"type":"line","interpolate":"monotone","strokeWidth":4.5,"opacity":0.85}}
]},
{"width":1563,"height":651,
"title":{"text":"(b)","orient":"bottom","dx":-77,"offset":80},
"transform":[{"filter":"datum.p == 'b'"}],
"encoding":{
"x":{"field":"x","type":"quantitative","scale":{"domain":[-400,400],"nice":false},"axis":{"title":"crank angle","values":[-400,-360,-300,-200,-180,-100,0,100,180,200,300,360,400],"labelExpr":"abs(datum.value) % 180 == 0 ? toString(datum.value) : ''","gridOpacity":{"condition":{"test":"abs(datum.value) % 100 != 0","value":0},"value":1},"tickOpacity":{"condition":{"test":"abs(datum.value) % 100 != 0 || abs(datum.value) == 400","value":0},"value":1},"labelOverlap":false,"labelFlush":false}},
"y":{"field":"y","type":"quantitative","scale":{"domain":[-20,20],"nice":false,"zero":false},"axis":{"title":"friction [N]","values":[-20,-10,0,10,20],"labelExpr":"toString(datum.value)"}},
"color":{"field":"s","type":"nominal","scale":{"domain":["0 hour","5.0 hours"],"range":["#2c2f94","#e5323a"]}}
},
"layer":[
{"transform":[{"filter":"datum.s == '0 hour'"}],"mark":{"type":"line","interpolate":"monotone","strokeWidth":4.5}},
{"transform":[{"filter":"datum.s == '5.0 hours'"}],"mark":{"type":"line","interpolate":"monotone","strokeWidth":4.5,"opacity":0.8}}
]},
{"width":1596,"height":622,
"title":{"text":"(c)","orient":"bottom","dx":-86,"offset":90},
"transform":[{"filter":"datum.p == 'c'"}],
"encoding":{
"x":{"field":"x","type":"quantitative","scale":{"domain":[-400,400],"nice":false},"axis":{"title":"crank angle","values":[-400,-360,-300,-200,-180,-100,0,100,180,200,300,360,400],"labelExpr":"abs(datum.value) % 180 == 0 ? toString(datum.value) : ''","gridOpacity":{"condition":{"test":"abs(datum.value) % 100 != 0","value":0},"value":1},"tickOpacity":{"condition":{"test":"abs(datum.value) % 100 != 0 || abs(datum.value) == 400","value":0},"value":1},"labelOverlap":false,"labelFlush":false}},
"y":{"field":"y","type":"quantitative","scale":{"domain":[-30,20],"nice":false,"zero":false},"axis":{"title":"friction [N]","values":[-30,-20,-10,0,10,20],"labelExpr":"toString(datum.value)"}},
"color":{"field":"s","type":"nominal","scale":{"domain":["0 hour","5.0 hours"],"range":["#2c2f94","#e5323a"]}}
},
"layer":[
{"transform":[{"filter":"datum.s == '0 hour'"}],"mark":{"type":"line","interpolate":"monotone","strokeWidth":4.5}},
{"transform":[{"filter":"datum.s == '5.0 hours'"}],"mark":{"type":"line","interpolate":"monotone","strokeWidth":4.5,"opacity":0.85}}
]},
{"width":1563,"height":615,
"title":{"text":"(d)","orient":"bottom","dx":-80,"offset":86},
"transform":[{"filter":"datum.p == 'd'"}],
"encoding":{
"x":{"field":"x","type":"quantitative","scale":{"domain":[-400,400],"nice":false},"axis":{"title":"crank angle","values":[-400,-360,-300,-200,-180,-100,0,100,180,200,300,360,400],"labelExpr":"abs(datum.value) % 180 == 0 ? toString(datum.value) : ''","gridOpacity":{"condition":{"test":"abs(datum.value) % 100 != 0","value":0},"value":1},"tickOpacity":{"condition":{"test":"abs(datum.value) % 100 != 0 || abs(datum.value) == 400","value":0},"value":1},"labelOverlap":false,"labelFlush":false}},
"y":{"field":"y","type":"quantitative","scale":{"domain":[-20,20],"nice":false,"zero":false},"axis":{"title":"friction [N]","values":[-20,-10,0,10,20],"labelExpr":"toString(datum.value)"}},
"color":{"field":"s","type":"nominal","scale":{"domain":["0 hour","5.0 hours"],"range":["#2c2f94","#e5323a"]}}
},
"layer":[
{"transform":[{"filter":"datum.s == '0 hour'"}],"mark":{"type":"line","interpolate":"monotone","strokeWidth":4.5}},
{"transform":[{"filter":"datum.s == '5.0 hours'"}],"mark":{"type":"line","interpolate":"monotone","strokeWidth":4.5,"opacity":0.8}}
]}
],
"config":{
"font":"Liberation Sans",
"view":{"stroke":"#a0a0a0","strokeWidth":3},
"axis":{"domain":false,"ticks":true,"tickSize":-14,"tickWidth":2,"tickColor":"#8c8c8c","grid":true,"gridColor":"#e2e2e2","gridWidth":2,"labelFont":"Liberation Sans","labelFontSize":46,"titleFont":"Liberation Sans","titleFontSize":44,"titleFontWeight":"normal","titleColor":"#666666"},
"axisX":{"labelColor":"#111111","labelPadding":54,"titlePadding":8},
"axisY":{"labelColor":"#444444","labelPadding":30,"titlePadding":12,"titleFontSize":42},
"title":{"font":"Liberation Serif","fontSize":54,"fontWeight":"bold","color":"#000000"},
"legend":{"title":null,"orient":"bottom-right","offset":28,"fillColor":"white","strokeColor":"#8a8a8a","padding":8,"rowPadding":14,"labelFont":"Liberation Sans","labelFontSize":46,"labelLimit":500,"labelColor":"#222222","symbolType":"stroke","symbolSize":2700,"symbolStrokeWidth":5,"labelOffset":4}
}
}
